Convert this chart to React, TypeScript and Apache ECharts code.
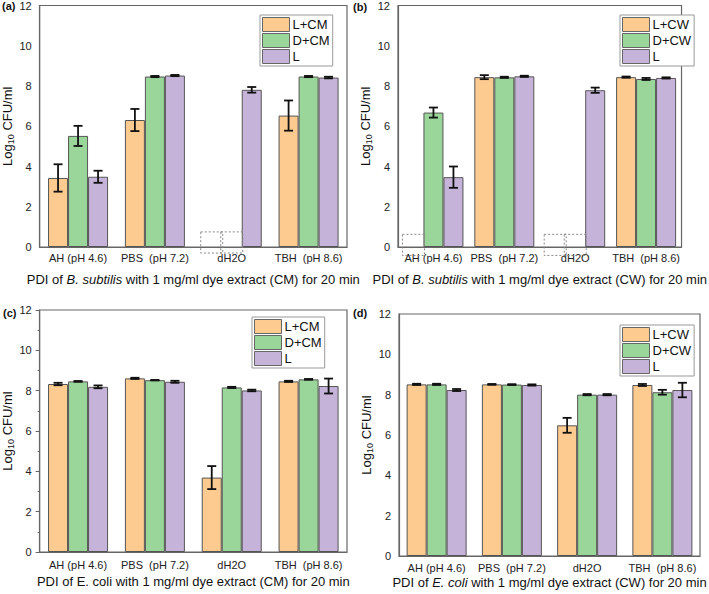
import React, { useEffect, useRef } from "react";
import * as echarts from "echarts";

const categories = ["AH (pH 4.6)", "PBS  (pH 7.2)", "dH2O", "TBH  (pH 8.6)"];
const namesCM = ["L+CM", "D+CM", "L"];
const namesCW = ["L+CW", "D+CW", "L"];
const yTicks = { min: 0, max: 12, interval: 2 };

// (a) B. subtilis, CM
const aLCM = [3.43, 6.31, null, 6.53];
const aLCMErr = [0.68, 0.55, 0, 0.75];
const aDCM = [5.52, 8.47, null, 8.47];
const aDCMErr = [0.5, 0.03, 0, 0.03];
const aL = [3.49, 8.52, 7.81, 8.42];
const aLErr = [0.3, 0.03, 0.14, 0.04];
// dashed "no growth" boxes: [category, slot, top, bottom]
const aBoxes = [[2, 0, 0.75, -0.3], [2, 1, 0.75, -0.3]];

// (b) B. subtilis, CW
const bLCW = [null, 8.44, null, 8.44];
const bLCWErr = [0, 0.1, 0, 0.03];
const bDCW = [6.68, 8.43, null, 8.35];
const bDCWErr = [0.25, 0.03, 0, 0.05];
const bL = [3.47, 8.48, 7.79, 8.4];
const bLErr = [0.53, 0.03, 0.13, 0.03];
const bBoxes = [[0, 0, 0.63, -0.42], [2, 0, 0.63, -0.42], [2, 1, 0.63, -0.42]];

// (c) E. coli, CM
const cLCM = [8.33, 8.61, 3.69, 8.46];
const cLCMErr = [0.06, 0.03, 0.57, 0.03];
const cDCM = [8.46, 8.52, 8.16, 8.56];
const cDCMErr = [0.02, 0.01, 0.03, 0.02];
const cL = [8.19, 8.44, 8.01, 8.23];
const cLErr = [0.07, 0.05, 0.04, 0.37];

// (d) E. coli, CW
const dLCW = [8.51, 8.51, 6.48, 8.48];
const dLCWErr = [0.03, 0.02, 0.37, 0.05];
const dDCW = [8.51, 8.5, 8.0, 8.12];
const dDCWErr = [0.03, 0.02, 0.03, 0.12];
const dL = [8.23, 8.48, 8.0, 8.23];
const dLErr = [0.05, 0.03, 0.03, 0.36];

const FONT = "'Liberation Sans', Arial, sans-serif";
const colors = ["#FDCB8F", "#9AD69A", "#C5B3D9"];
const BAR_W = 20;

const panels = [
  {
    grid: { left: 37, top: 5, width: 310, height: 242 },
    names: namesCM,
    values: [aLCM, aDCM, aL],
    errs: [aLCMErr, aDCMErr, aLErr],
    boxes: aBoxes,
    legend: { left: 260, top: 15 },
    xName: "{a|PDI of }{i|B. subtilis}{a| with 1 mg/ml dye extract (CM) for 20 min}",
    nameGap: 26,
    labelMargin: 5,
    ticks: false,
    tag: "(a)",
    tagPos: [2, 0],
  },
  {
    grid: { left: 398, top: 5, width: 300, height: 242 },
    names: namesCW,
    values: [bLCW, bDCW, bL],
    errs: [bLCWErr, bDCWErr, bLErr],
    boxes: bBoxes,
    legend: { left: 620, top: 15 },
    xName: "{a|PDI of }{i|B. subtilis}{a| with 1 mg/ml dye extract (CW) for 20 min}",
    nameGap: 26,
    labelMargin: 5,
    ticks: false,
    tag: "(b)",
    tagPos: [353, 1],
  },
  {
    grid: { left: 38, top: 310, width: 309, height: 242 },
    names: namesCM,
    values: [cLCM, cDCM, cL],
    errs: [cLCMErr, cDCMErr, cLErr],
    boxes: [],
    legend: { left: 252, top: 317 },
    xName: "{a|PDI of E. coli with 1 mg/ml dye extract (CM) for 20 min}",
    nameGap: 23,
    labelMargin: 7,
    ticks: true,
    tag: "(c)",
    tagPos: [3, 307],
  },
  {
    grid: { left: 399, top: 314, width: 301, height: 242 },
    names: namesCW,
    values: [dLCW, dDCW, dL],
    errs: [dLCWErr, dDCWErr, dLErr],
    boxes: [],
    legend: { left: 620, top: 325 },
    xName: "{a|PDI of }{i|E. coli}{a| with 1 mg/ml dye extract (CW) for 20 min}",
    nameGap: 20,
    labelMargin: 6,
    ticks: false,
    tag: "(d)",
    tagPos: [353, 307],
  },
];

function buildOption() {
  const grid: any[] = [];
  const xAxis: any[] = [];
  const yAxis: any[] = [];
  const legend: any[] = [];
  const series: any[] = [];
  const graphic: any[] = [];

  panels.forEach((p, idx) => {
    grid.push({
      ...p.grid,
      show: true,
      borderColor: "#666",
      borderWidth: 1.2,
      backgroundColor: "transparent",
      containLabel: false,
    });
    xAxis.push({
      type: "category",
      gridIndex: idx,
      data: categories,
      axisLine: { show: true, lineStyle: { color: "#666", width: 1.2 } },
      axisTick: { show: false },
      axisLabel: { fontSize: 11, color: "#222", fontFamily: FONT, margin: p.labelMargin, interval: 0 },
      name: p.xName,
      nameLocation: "middle",
      nameGap: p.nameGap,
      nameTextStyle: {
        fontSize: 13,
        color: "#111",
        fontFamily: FONT,
        rich: {
          a: { fontSize: 13, color: "#111", fontFamily: FONT },
          i: { fontSize: 13, color: "#111", fontFamily: FONT, fontStyle: "italic" },
        },
      },
    });
    yAxis.push({
      type: "value",
      gridIndex: idx,
      min: yTicks.min,
      max: yTicks.max,
      interval: yTicks.interval,
      splitLine: { show: false },
      axisLine: { show: true, lineStyle: { color: "#666", width: 1.2 } },
      axisTick: { show: p.ticks, length: 4, inside: false, lineStyle: { color: "#666" } },
      minorTick: { show: p.ticks, splitNumber: 2, length: 2, lineStyle: { color: "#666" } },
      axisLabel: { fontSize: 11, color: "#222", fontFamily: FONT, margin: 8 },
      name: "{a|Log}{s|10}{a| CFU/ml}",
      nameLocation: "middle",
      nameGap: 21,
      nameRotate: 90,
      nameTextStyle: {
        fontSize: 13,
        color: "#111",
        fontFamily: FONT,
        rich: {
          a: { fontSize: 13, color: "#111", fontFamily: FONT },
          s: { fontSize: 9, color: "#111", fontFamily: FONT, padding: [7, 0, 0, 0] },
        },
      },
    });
    legend.push({
      ...p.legend,
      orient: "vertical",
      data: p.names,
      itemWidth: 27,
      itemHeight: 14,
      itemGap: 1,
      padding: [2, 3, 2, 2],
      borderColor: "#999",
      borderWidth: 1,
      backgroundColor: "#fff",
      selectedMode: false,
      icon: "rect",
      itemStyle: { borderColor: "#666", borderWidth: 1 },
      textStyle: { fontSize: 13, color: "#111", fontFamily: FONT, padding: [0, 0, 0, -2] },
    });

    p.names.forEach((nm, s) => {
      series.push({
        type: "bar",
        name: nm,
        xAxisIndex: idx,
        yAxisIndex: idx,
        barWidth: BAR_W,
        barGap: "0%",
        itemStyle: { color: colors[s], borderColor: "#555", borderWidth: 1 },
        data: p.values[s],
        z: 2,
      });
    });

    const errData: any[] = [];
    p.values.forEach((vals, s) => {
      vals.forEach((v, i) => {
        if (v !== null) errData.push([i, v, p.errs[s][i], s]);
      });
    });
    series.push({
      type: "custom",
      xAxisIndex: idx,
      yAxisIndex: idx,
      z: 5,
      encode: { x: 0, y: 1 },
      data: errData,
      renderItem: (params: any, api: any) => {
        const cat = api.value(0);
        const v = api.value(1);
        const e = api.value(2);
        const s = api.value(3);
        const hi = api.coord([cat, v + e]);
        const lo = api.coord([cat, v - e]);
        const x = hi[0] + (s - 1) * BAR_W;
        const cw = 4.5;
        const st = { stroke: "#111", lineWidth: 1.8 };
        return {
          type: "group",
          children: [
            { type: "line", shape: { x1: x, y1: hi[1], x2: x, y2: lo[1] }, style: st },
            { type: "line", shape: { x1: x - cw, y1: hi[1], x2: x + cw, y2: hi[1] }, style: st },
            { type: "line", shape: { x1: x - cw, y1: lo[1], x2: x + cw, y2: lo[1] }, style: st },
          ],
        };
      },
    });

    if (p.boxes.length) {
      series.push({
        type: "custom",
        xAxisIndex: idx,
        yAxisIndex: idx,
        z: 4,
        clip: false,
        encode: { x: 0, y: 2 },
        data: p.boxes,
        renderItem: (params: any, api: any) => {
          const cat = api.value(0);
          const s = api.value(1);
          const top = api.coord([cat, api.value(2)]);
          const bot = api.coord([cat, api.value(3)]);
          const x = top[0] + (s - 1) * BAR_W - 11;
          return {
            type: "rect",
            shape: { x, y: top[1], width: 22, height: bot[1] - top[1] },
            style: { fill: "rgba(0,0,0,0)", stroke: "#888", lineWidth: 1, lineDash: [2, 2] },
          };
        },
      });
    }

    graphic.push({
      type: "text",
      left: p.tagPos[0],
      top: p.tagPos[1],
      style: { text: p.tag, font: `bold 11px ${FONT}`, fill: "#111" },
    });
  });

  return {
    animation: false,
    backgroundColor: "#fff",
    grid,
    xAxis,
    yAxis,
    legend,
    series,
    graphic,
  };
}

export default function App() {
  const ref = useRef<HTMLDivElement>(null);
  useEffect(() => {
    document.body.style.margin = "0";
    const chart = echarts.init(ref.current!, undefined, { renderer: "svg" });
    chart.setOption(buildOption() as any);
    return () => chart.dispose();
  }, []);
  return <div ref={ref} style={{ width: 709, height: 594, background: "#fff" }} />;
}
